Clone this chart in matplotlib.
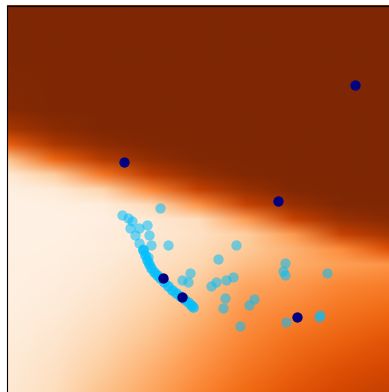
import numpy as np
import matplotlib
matplotlib.use("Agg")
from matplotlib import pyplot as plt
from matplotlib.image import NonUniformImage

# background field, sampled on a coarse grid (rows top -> bottom)
grid_x = np.linspace(0, 1, 9)
grid_y = [1.0, 0.860, 0.731, 0.679, 0.640, 0.601, 0.562, 0.523, 0.484,
          0.446, 0.407, 0.368, 0.329, 0.277, 0.212, 0.135, 0.057, 0.0]
field = [
    [1.00, 1.00, 1.00, 1.00, 1.00, 1.00, 1.00, 1.00, 1.00],
    [1.00, 1.00, 1.00, 1.00, 1.00, 1.00, 1.00, 1.00, 1.00],
    [0.98, 1.00, 1.00, 1.00, 1.00, 1.00, 1.00, 1.00, 1.00],
    [0.87, 0.96, 1.00, 1.00, 1.00, 1.00, 1.00, 1.00, 1.00],
    [0.66, 0.86, 0.95, 0.99, 1.00, 1.00, 1.00, 1.00, 1.00],
    [0.29, 0.64, 0.84, 0.94, 0.99, 1.00, 1.00, 1.00, 1.00],
    [0.09, 0.26, 0.58, 0.82, 0.93, 0.99, 1.00, 1.00, 1.00],
    [0.05, 0.08, 0.22, 0.53, 0.80, 0.92, 0.99, 1.00, 1.00],
    [0.03, 0.04, 0.07, 0.19, 0.48, 0.79, 0.92, 0.99, 1.00],
    [0.03, 0.03, 0.05, 0.10, 0.17, 0.45, 0.79, 0.92, 0.97],
    [0.03, 0.03, 0.06, 0.10, 0.15, 0.25, 0.45, 0.79, 0.88],
    [0.03, 0.04, 0.07, 0.12, 0.18, 0.27, 0.36, 0.50, 0.72],
    [0.04, 0.05, 0.09, 0.15, 0.21, 0.32, 0.38, 0.43, 0.47],
    [0.04, 0.06, 0.11, 0.19, 0.27, 0.40, 0.45, 0.52, 0.55],
    [0.05, 0.08, 0.15, 0.24, 0.34, 0.47, 0.52, 0.58, 0.62],
    [0.07, 0.12, 0.20, 0.30, 0.42, 0.52, 0.60, 0.65, 0.70],
    [0.09, 0.15, 0.26, 0.36, 0.48, 0.58, 0.66, 0.72, 0.76],
    [0.10, 0.17, 0.30, 0.40, 0.52, 0.62, 0.70, 0.76, 0.80],
]

# scattered light points
light_x = [0.401, 0.301, 0.317, 0.327, 0.322, 0.346, 0.366, 0.335, 0.372, 0.346,
           0.377, 0.421, 0.356, 0.369, 0.599, 0.552, 0.534, 0.547, 0.573, 0.592,
           0.571, 0.565, 0.647, 0.634, 0.610, 0.479, 0.458, 0.474, 0.728, 0.723,
           0.728, 0.838, 0.730, 0.817, 0.819]
light_y = [0.477, 0.459, 0.451, 0.443, 0.425, 0.425, 0.433, 0.407, 0.407, 0.386,
           0.381, 0.381, 0.370, 0.350, 0.381, 0.345, 0.275, 0.285, 0.290, 0.298,
           0.244, 0.218, 0.241, 0.225, 0.171, 0.308, 0.290, 0.285, 0.334, 0.313,
           0.303, 0.308, 0.181, 0.194, 0.199]

# dense streak of points
streak_x = [0.356, 0.361, 0.366, 0.372, 0.377, 0.385, 0.393, 0.401, 0.411, 0.421,
            0.432, 0.442, 0.453, 0.463, 0.474, 0.482, 0.487]
streak_y = [0.368, 0.355, 0.342, 0.332, 0.321, 0.311, 0.303, 0.295, 0.285, 0.275,
            0.264, 0.256, 0.249, 0.241, 0.233, 0.225, 0.220]

# dark points
dark_x = [0.911, 0.306, 0.709, 0.408, 0.458, 0.759]
dark_y = [0.795, 0.596, 0.495, 0.295, 0.246, 0.194]

fig = plt.figure(figsize=(3.89, 3.92), dpi=100)
ax = fig.add_axes([7 / 389, 0, 382 / 389, 386 / 392])

im = NonUniformImage(ax, interpolation='bilinear', cmap='Oranges',
                     extent=(0, 1, 0, 1), zorder=1)
im.set_clim(0, 1)
im.set_data(grid_x, np.array(grid_y[::-1]), np.array(field[::-1]))
ax.add_image(im)

ax.scatter(light_x, light_y, s=55, c='deepskyblue', alpha=0.55,
           linewidths=0, zorder=2)
ax.scatter(streak_x, streak_y, s=60, c='deepskyblue', alpha=0.55,
           linewidths=0, zorder=2)
ax.scatter(streak_x, streak_y, s=50, c='deepskyblue', alpha=0.55,
           linewidths=0, zorder=2)
ax.scatter(dark_x, dark_y, s=55, c='navy', linewidths=0, zorder=3)

ax.set_xlim(0, 1)
ax.set_ylim(0, 1)
ax.set_xticks([])
ax.set_yticks([])
ax.spines['right'].set_visible(False)
ax.spines['bottom'].set_visible(False)

plt.savefig('out.png', dpi=100)
